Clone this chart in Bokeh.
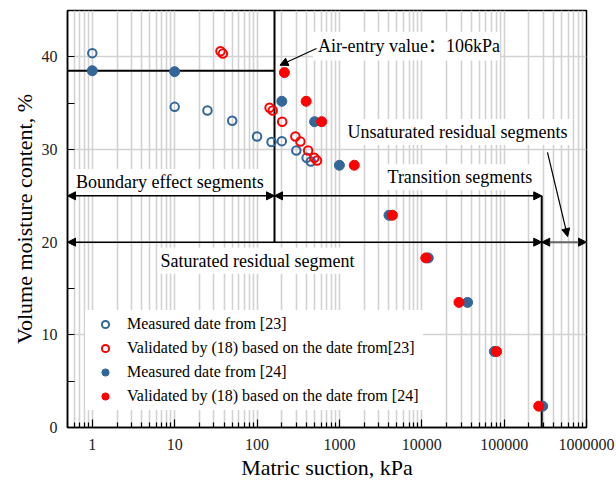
from bokeh.plotting import figure
from bokeh.models import (FixedTicker, Arrow, NormalHead, Label, Legend, LegendItem,
                          NumeralTickFormatter, Range1d)
from bokeh.embed import file_html
from bokeh.resources import INLINE

# ---------------- data ----------------
m23_suction = [1, 10, 25, 50, 100, 150, 200, 300, 400, 450]
m23_moisture = [40.4, 34.6, 34.2, 33.1, 31.4, 30.8, 30.9, 29.9, 29.1, 28.7]

v23_suction = [36, 38.5, 142, 155, 202, 292, 336, 417, 497, 535]
v23_moisture = [40.6, 40.35, 34.5, 34.2, 33.0, 31.4, 30.85, 29.9, 29.1, 28.8]

m24_suction = [1, 10, 200, 500, 1000, 4000, 12000, 36000, 76000, 294000]
m24_moisture = [38.5, 38.4, 35.2, 33.0, 28.3, 22.9, 18.3, 13.5, 8.2, 2.3]

v24_suction = [215, 395, 609, 1515, 4400, 11200, 28300, 80900, 263000]
v24_moisture = [38.3, 35.2, 33.0, 28.3, 22.9, 18.3, 13.5, 8.2, 2.3]

x_major = [1, 10, 100, 1000, 10000, 100000, 1000000]
y_major = [0, 10, 20, 30, 40]
y_minor = [5, 15, 25, 35]

legend_labels = ["Measured date from [23]",
                 "Validated by (18) based on the date from[23]",
                 "Measured date from [24]",
                 "Validated by (18) based on the date from [24]"]

# segment boundaries (kPa) and levels (%)
boundary_1 = 163
boundary_2 = 2.86e5
air_entry_level = 38.5
level_upper = 25
level_lower = 20

BLUE = "#336699"
RED = "#ff0000"
SERIF = "Liberation Serif"

x_minor = [k * 10.0 ** d for d in range(-1, 6) for k in range(2, 10)]

p = figure(width=616, height=484, x_axis_type="log",
           x_range=Range1d(0.5, 1e6), y_range=Range1d(0, 45),
           output_backend="svg", toolbar_location=None,
           min_border_left=67, min_border_right=30,
           min_border_top=10, min_border_bottom=57)

p.background_fill_color = "white"
p.border_fill_color = "white"
p.outline_line_color = "black"
p.outline_line_width = 1.5

# axes
p.xaxis.ticker = FixedTicker(ticks=x_major, minor_ticks=x_minor)
p.xaxis.formatter = NumeralTickFormatter(format="0")
p.yaxis.ticker = FixedTicker(ticks=y_major, minor_ticks=y_minor)
for ax in (p.xaxis, p.yaxis):
    ax.axis_line_color = "black"
    ax.axis_line_width = 1.5
    ax.major_tick_out = 0
    ax.minor_tick_out = 0
    ax.major_tick_line_color = "black"
    ax.minor_tick_line_color = "black"
    ax.major_tick_line_width = 1.2
    ax.minor_tick_line_width = 1.2
    ax.major_label_text_font = SERIF
    ax.major_label_text_font_size = "16px"
    ax.major_label_text_color = "#222222"
    ax.axis_label_text_font = SERIF
    ax.axis_label_text_font_size = "22px"
    ax.axis_label_text_font_style = "normal"
    ax.axis_label_text_color = "black"
p.xaxis.major_tick_in = 8
p.xaxis.minor_tick_in = 5
p.yaxis.major_tick_in = 7
p.yaxis.minor_tick_in = 7
p.xaxis.major_label_standoff = 11
p.xaxis.axis_label_standoff = 2
p.yaxis.major_label_standoff = 10
p.yaxis.axis_label_standoff = 2
p.xaxis.axis_label = "Matric suction, kPa"
p.yaxis.axis_label = "Volume moisture content, %"

# grids
p.xgrid.grid_line_color = "#d2d2d2"
p.xgrid.grid_line_width = 1.6
p.xgrid.minor_grid_line_color = "#d2d2d2"
p.xgrid.minor_grid_line_width = 1.6
p.ygrid.ticker = FixedTicker(ticks=[10, 20, 30, 40])
p.ygrid.grid_line_color = "#d2d2d2"
p.ygrid.grid_line_width = 1.6

# white box behind the air-entry annotation
p.quad(left=[478], right=[89000], bottom=[39.6], top=[42.7],
       fill_color="white", line_color=None)

# structural lines
p.segment(x0=[0.5], y0=[air_entry_level], x1=[boundary_1], y1=[air_entry_level],
          line_color="black", line_width=2)
p.segment(x0=[boundary_1], y0=[45], x1=[boundary_1], y1=[level_lower],
          line_color="black", line_width=2)
p.segment(x0=[boundary_2], y0=[level_upper], x1=[boundary_2], y1=[0],
          line_color="black", line_width=2)

# data points
r1 = p.scatter(m23_suction, m23_moisture, marker="circle", size=8.5,
               fill_color="white", fill_alpha=0, line_color=BLUE, line_width=2)
r2 = p.scatter(v23_suction, v23_moisture, marker="circle", size=8.5,
               fill_color="white", fill_alpha=0, line_color=RED, line_width=2)
r3 = p.scatter(m24_suction, m24_moisture, marker="circle", size=10,
               fill_color=BLUE, line_color=BLUE, line_width=1)
r4 = p.scatter(v24_suction, v24_moisture, marker="circle", size=10,
               fill_color=RED, line_color=RED, line_width=1)

# text labels
def add_label(x, y, text, font=SERIF, size="18px", pad=3, bg=True):
    lab = Label(x=x, y=y, text=text, text_font=font, text_font_size=size,
                text_baseline="middle", text_align="left", text_color="black",
                background_fill_color="white" if bg else None,
                background_fill_alpha=1.0 if bg else 0.0,
                padding=pad)
    p.add_layout(lab)
    return lab

add_label(0.585, 26.5, "Boundary effect segments")
add_label(3530, 27.0, "Transition segments")
add_label(1155, 31.9, "Unsaturated residual segments")
add_label(6.2, 18.0, "Saturated residual segment")
add_label(548, 41.2, "Air-entry value：106kPa",
          font="'Liberation Serif', 'Noto Sans CJK SC'", size="18px",
          pad=0, bg=False)

# arrows
def head():
    return NormalHead(size=8, fill_color="black", line_color="black", line_width=1)

def add_arrow(x0, y0, x1, y1, both=True, color="black", width=1.5):
    a = Arrow(x_start=x0, y_start=y0, x_end=x1, y_end=y1, end=head(),
              start=head() if both else None, line_color=color, line_width=width)
    p.add_layout(a)

add_arrow(0.5, level_upper, boundary_1, level_upper)
add_arrow(boundary_1, level_upper, boundary_2, level_upper)
add_arrow(0.5, level_lower, boundary_2, level_lower)
add_arrow(boundary_2, level_lower, 1e6, level_lower, color="#666666", width=2)
add_arrow(527, 40.9, 190, 39.1, both=False, width=1.2)
add_arrow(3.36e5, 29.7, 5.9e5, 20.6, both=False, width=1.2)

# legend
legend = Legend(items=[LegendItem(label=legend_labels[0], renderers=[r1]),
                       LegendItem(label=legend_labels[1], renderers=[r2]),
                       LegendItem(label=legend_labels[2], renderers=[r3]),
                       LegendItem(label=legend_labels[3], renderers=[r4])],
                location=(18, 17), orientation="vertical",
                label_text_font=SERIF, label_text_font_size="16px",
                label_text_color="black",
                glyph_width=30, glyph_height=18, label_height=18,
                spacing=6, padding=5, margin=0, label_standoff=7,
                border_line_alpha=0, background_fill_color="white",
                background_fill_alpha=1.0)
p.add_layout(legend)

open("out.html", "w").write(file_html(p, INLINE))
